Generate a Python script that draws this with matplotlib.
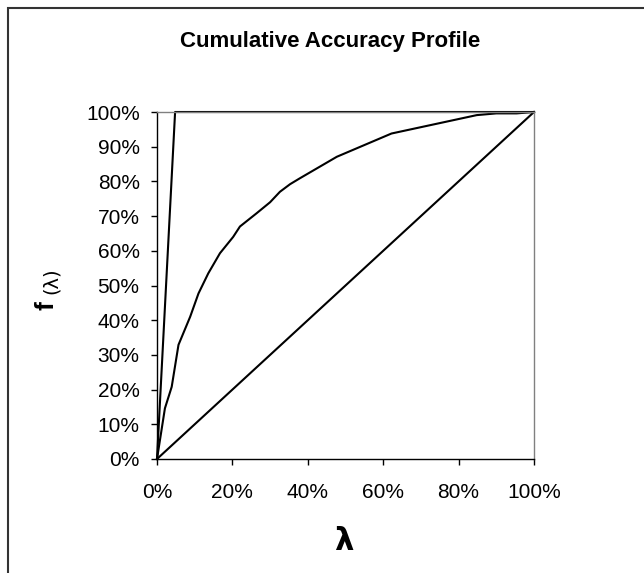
import matplotlib
matplotlib.use("Agg")
import matplotlib.pyplot as plt
from matplotlib.ticker import PercentFormatter
from matplotlib.patches import Rectangle

plt.rcParams['font.family'] = ['Liberation Sans', 'DejaVu Sans']

# Data (in %)
cap_x = [0, 2.1, 3.9, 5.7, 8.8, 11, 13.6, 16.7, 20.2, 22, 26.4, 30, 32.6, 35.3, 37.9, 47.7, 62.2, 75, 84.8, 90, 95.4, 100]
cap_y = [0, 14.6, 20.8, 32.9, 41, 47.7, 53.5, 59.3, 64, 67, 70.8, 74, 77, 79.2, 80.9, 87.1, 93.8, 96.8, 99.1, 99.6, 99.6, 100]
perfect_x = [0, 4.8, 100]
perfect_y = [0, 100, 100]
random_x = [0, 100]
random_y = [0, 100]
ticks = [0, 10, 20, 30, 40, 50, 60, 70, 80, 90, 100]
xticks = [0, 20, 40, 60, 80, 100]

W, H = 644, 573
fig = plt.figure(figsize=(W / 100, H / 100), dpi=100)
fig.patch.set_facecolor('white')

# outer frame
fig.patches.append(Rectangle((8 / W, -0.01), 1.1, (H - 8) / H + 0.01, transform=fig.transFigure,
                             fill=False, edgecolor='#333333', linewidth=1.5))

ax = fig.add_axes([157 / W, 1 - 459 / H, (534 - 157) / W, (459 - 112) / H])
ax.plot(random_x, random_y, color='black', lw=1.5, clip_on=False)
ax.plot(cap_x, cap_y, color='black', lw=1.5, clip_on=False)
ax.plot(perfect_x, perfect_y, color='black', lw=1.5, clip_on=False)

ax.set_xlim(0, 100)
ax.set_ylim(0, 100)
ax.set_xticks(xticks)
ax.set_yticks(ticks)
ax.xaxis.set_major_formatter(PercentFormatter(decimals=0))
ax.yaxis.set_major_formatter(PercentFormatter(decimals=0))
ax.tick_params(axis='x', length=4.5, width=1, pad=13, labelsize=15, direction='out')
ax.tick_params(axis='y', length=4.5, width=1, pad=8, labelsize=15, direction='out')
for s in ['left', 'bottom']:
    ax.spines[s].set_color('black')
    ax.spines[s].set_linewidth(1)
for s in ['top', 'right']:
    ax.spines[s].set_color('#808080')
    ax.spines[s].set_linewidth(1)

fig.text(330 / W, 1 - 42 / H, 'Cumulative Accuracy Profile', ha='center', va='center',
         fontsize=16, fontweight='bold')
fig.text(344 / W, 1 - 542 / H, 'λ', ha='center', va='center', fontsize=22, fontweight='bold',
         family=['DejaVu Sans'])
fig.text(47 / W, 1 - 306 / H, 'f', ha='center', va='center', fontsize=19, fontweight='bold', rotation=90)
fig.text(51 / W, 1 - 281 / H, '(λ)', ha='center', va='center', fontsize=14, rotation=90,
         family=['DejaVu Sans'])

fig.savefig('out.png', dpi=100)
